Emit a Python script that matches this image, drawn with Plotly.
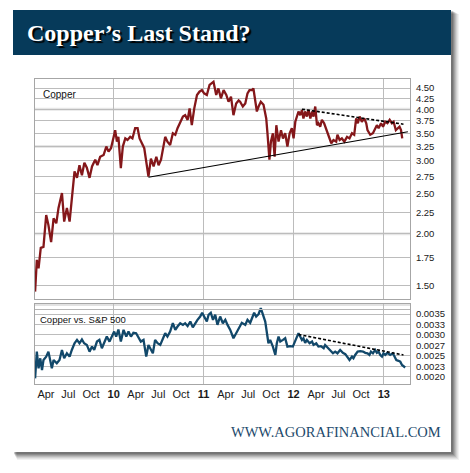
import plotly.graph_objects as go

# ---------------- data ----------------
copper_dates = [
    "2009-02-16","2009-02-23","2009-03-02","2009-03-11","2009-03-22","2009-04-02","2009-04-11","2009-04-22",
    "2009-05-02","2009-05-13","2009-05-22","2009-06-05","2009-06-14","2009-06-25","2009-07-06","2009-07-15",
    "2009-07-26","2009-08-05","2009-08-15","2009-08-25","2009-09-04","2009-09-14","2009-09-25","2009-10-05",
    "2009-10-18","2009-10-27","2009-11-07","2009-11-21","2009-12-02","2009-12-11","2009-12-21","2010-01-01",
    "2010-01-07","2010-01-14","2010-01-20","2010-01-30","2010-02-07","2010-02-17","2010-02-26","2010-03-09",
    "2010-03-18","2010-03-29","2010-04-08","2010-04-16","2010-04-25","2010-05-05","2010-05-13","2010-05-22",
    "2010-06-01","2010-06-12","2010-06-23","2010-07-02","2010-07-12","2010-07-20","2010-07-29","2010-08-07",
    "2010-08-18","2010-08-29","2010-09-08","2010-09-17","2010-09-28","2010-10-09","2010-10-18","2010-10-28",
    "2010-11-05","2010-11-14","2010-11-24","2010-12-05","2010-12-15","2010-12-25","2011-01-03","2011-01-14",
    "2011-01-25","2011-02-04","2011-02-10","2011-02-21","2011-03-02","2011-03-12","2011-03-23","2011-04-03",
    "2011-04-12","2011-04-22","2011-05-02","2011-05-13","2011-05-23","2011-05-29","2011-06-09","2011-06-19",
    "2011-06-28","2011-07-06","2011-07-16","2011-07-22","2011-07-29","2011-08-05","2011-08-12","2011-08-21",
    "2011-09-01","2011-09-12","2011-09-17","2011-09-25","2011-10-01","2011-10-09","2011-10-16","2011-10-23",
    "2011-11-01","2011-11-11","2011-11-19","2011-11-28","2011-12-07","2011-12-16","2011-12-25","2012-01-01",
    "2012-01-08","2012-01-15","2012-01-21","2012-01-28","2012-02-04","2012-02-10","2012-02-17","2012-02-24",
    "2012-03-02","2012-03-09","2012-03-16","2012-03-22","2012-03-29","2012-04-05","2012-04-11","2012-04-18",
    "2012-04-25","2012-05-04","2012-05-15","2012-05-25","2012-06-02","2012-06-11","2012-06-22","2012-06-27",
    "2012-07-06","2012-07-15","2012-07-25","2012-08-05","2012-08-15","2012-08-25","2012-09-03","2012-09-11",
    "2012-09-18","2012-09-25","2012-10-04","2012-10-14","2012-10-22","2012-10-27","2012-11-07","2012-11-18",
    "2012-11-27","2012-12-04","2012-12-11","2012-12-21","2012-12-29","2013-01-07","2013-01-16","2013-01-25",
    "2013-02-03","2013-02-10","2013-02-19","2013-02-26","2013-03-06","2013-03-12","2013-03-17",
]
copper_values = [
    1.45, 1.73, 1.65, 1.85, 1.86, 2.22, 2.10, 1.91,
    2.18, 2.12, 2.31, 2.51, 2.14, 2.31, 2.14, 2.48,
    2.83, 2.73, 2.93, 2.77, 2.97, 2.89, 2.73, 2.91,
    3.02, 2.93, 3.07, 3.10, 3.25, 3.16, 3.22, 3.43,
    3.56, 3.34, 3.43, 2.88, 3.25, 3.40, 3.37, 3.43,
    3.40, 3.60, 3.60, 3.40, 3.31, 3.22, 2.99, 2.75,
    3.04, 2.91, 3.07, 2.93, 3.02, 3.19, 3.43, 3.34,
    3.28, 3.50, 3.47, 3.60, 3.73, 3.84, 3.87, 3.77,
    4.02, 3.66, 4.02, 4.33, 4.41, 4.45, 4.37, 4.33,
    4.58, 4.62, 4.66, 4.33, 4.49, 4.25, 4.45, 4.33,
    4.17, 4.29, 3.87, 4.13, 4.20, 4.17, 4.06, 4.13,
    4.37, 4.45, 4.45, 4.49, 4.25, 3.95, 4.06, 4.17,
    4.10, 3.80, 3.50, 3.02, 3.34, 3.50, 3.07, 3.66,
    3.34, 3.56, 3.40, 3.50, 3.25, 3.50, 3.60, 3.40,
    3.73, 3.84, 3.95, 3.87, 3.98, 3.80, 3.95, 3.84,
    3.98, 3.80, 3.95, 3.84, 4.06, 3.66, 3.70, 3.63,
    3.77, 3.70, 3.53, 3.40, 3.31, 3.37, 3.34, 3.47,
    3.37, 3.40, 3.34, 3.43, 3.40, 3.50, 3.47, 3.80,
    3.70, 3.84, 3.73, 3.80, 3.70, 3.56, 3.47, 3.50,
    3.60, 3.66, 3.60, 3.70, 3.63, 3.73, 3.70, 3.77,
    3.70, 3.73, 3.56, 3.60, 3.63, 3.56, 3.40,
]

ratio_dates = [
    "2009-02-16","2009-02-23","2009-03-02","2009-03-09","2009-03-16","2009-03-22","2009-04-02","2009-04-11",
    "2009-04-25","2009-05-02","2009-05-15","2009-05-26","2009-06-05","2009-06-14","2009-06-25","2009-07-06",
    "2009-07-15","2009-07-26","2009-08-05","2009-08-15","2009-08-25","2009-09-03","2009-09-14","2009-09-25",
    "2009-10-05","2009-10-14","2009-10-25","2009-11-04","2009-11-14","2009-11-23","2009-12-04","2009-12-15",
    "2009-12-25","2010-01-03","2010-01-11","2010-01-20","2010-01-30","2010-02-10","2010-02-21","2010-03-02",
    "2010-03-12","2010-03-22","2010-04-02","2010-04-12","2010-04-21","2010-05-02","2010-05-13","2010-05-22",
    "2010-06-01","2010-06-09","2010-06-18","2010-06-28","2010-07-09","2010-07-20","2010-07-29","2010-08-07",
    "2010-08-18","2010-08-29","2010-09-08","2010-09-17","2010-09-28","2010-10-09","2010-10-18","2010-10-28",
    "2010-11-08","2010-11-18","2010-11-28","2010-12-07","2010-12-18","2010-12-26","2011-01-03","2011-01-14",
    "2011-01-21","2011-01-30","2011-02-08","2011-02-17","2011-02-26","2011-03-09","2011-03-20","2011-03-30",
    "2011-04-08","2011-04-19","2011-05-02","2011-05-16","2011-05-27","2011-06-05","2011-06-19","2011-06-28",
    "2011-07-09","2011-07-16","2011-07-25","2011-08-02","2011-08-12","2011-08-21","2011-08-30","2011-09-08",
    "2011-09-15","2011-09-21","2011-09-28","2011-10-09","2011-10-19","2011-10-25","2011-11-01","2011-11-08",
    "2011-11-19","2011-11-28","2011-12-07","2011-12-18","2011-12-29","2012-01-08","2012-01-15","2012-01-21",
    "2012-01-28","2012-02-04","2012-02-10","2012-02-17","2012-02-24","2012-03-06","2012-03-16","2012-03-22",
    "2012-04-02","2012-04-11","2012-04-21","2012-05-02","2012-05-08","2012-05-18","2012-05-29","2012-06-09",
    "2012-06-18","2012-06-27","2012-07-08","2012-07-19","2012-07-29","2012-08-07","2012-08-15","2012-08-25",
    "2012-08-31","2012-09-07","2012-09-17","2012-09-28","2012-10-09","2012-10-18","2012-10-27","2012-11-04",
    "2012-11-10","2012-11-18","2012-11-27","2012-12-04","2012-12-11","2012-12-18","2012-12-25","2012-12-31",
    "2013-01-07","2013-01-16","2013-01-27","2013-02-07","2013-02-13","2013-02-21","2013-03-02","2013-03-09",
    "2013-03-16","2013-03-22","2013-03-29",
]
ratio_values = [
    0.00196, 0.00260, 0.00220, 0.00244, 0.00216, 0.00240, 0.00248, 0.00260,
    0.00220, 0.00240, 0.00232, 0.00240, 0.00264, 0.00244, 0.00256, 0.00248,
    0.00264, 0.00280, 0.00288, 0.00280, 0.00289, 0.00280, 0.00276, 0.00260,
    0.00272, 0.00264, 0.00284, 0.00288, 0.00268, 0.00280, 0.00296, 0.00284,
    0.00296, 0.00308, 0.00296, 0.00313, 0.00284, 0.00312, 0.00296, 0.00308,
    0.00296, 0.00305, 0.00304, 0.00292, 0.00284, 0.00288, 0.00248, 0.00276,
    0.00264, 0.00256, 0.00288, 0.00280, 0.00276, 0.00292, 0.00304, 0.00296,
    0.00308, 0.00328, 0.00312, 0.00320, 0.00328, 0.00324, 0.00328, 0.00321,
    0.00332, 0.00318, 0.00328, 0.00336, 0.00344, 0.00353, 0.00344, 0.00332,
    0.00348, 0.00353, 0.00336, 0.00348, 0.00324, 0.00344, 0.00328, 0.00336,
    0.00324, 0.00312, 0.00292, 0.00308, 0.00320, 0.00329, 0.00324, 0.00336,
    0.00329, 0.00340, 0.00353, 0.00344, 0.00350, 0.00364, 0.00348, 0.00332,
    0.00304, 0.00280, 0.00288, 0.00272, 0.00252, 0.00280, 0.00296, 0.00284,
    0.00288, 0.00292, 0.00272, 0.00273, 0.00272, 0.00284, 0.00296, 0.00304,
    0.00296, 0.00288, 0.00292, 0.00281, 0.00288, 0.00280, 0.00284, 0.00276,
    0.00280, 0.00272, 0.00273, 0.00268, 0.00276, 0.00270, 0.00264, 0.00256,
    0.00260, 0.00256, 0.00264, 0.00257, 0.00254, 0.00248, 0.00240, 0.00248,
    0.00244, 0.00252, 0.00260, 0.00261, 0.00260, 0.00257, 0.00256, 0.00252,
    0.00260, 0.00256, 0.00264, 0.00257, 0.00260, 0.00252, 0.00248, 0.00256,
    0.00252, 0.00257, 0.00252, 0.00256, 0.00248, 0.00240, 0.00238, 0.00236,
    0.00228, 0.00224, 0.00222,
]

support_dates = ["2010-05-22", "2013-04-09"]
support_values = [2.74, 3.53]
resist_dates = ["2012-02-04", "2013-03-22"]
resist_values = [4.00, 3.68]
ratio_trend_dates = ["2012-01-21", "2013-03-22"]
ratio_trend_values = [0.00301, 0.00252]

x_tick_dates = ["2009-04-01","2009-07-01","2009-10-01","2010-01-01","2010-04-01","2010-07-01","2010-10-01",
                "2011-01-01","2011-04-01","2011-07-01","2011-10-01","2012-01-01","2012-04-01","2012-07-01",
                "2012-10-01","2013-01-01"]
x_tick_labels = ["Apr","Jul","Oct","<b>10</b>","Apr","Jul","Oct","<b>11</b>","Apr","Jul","Oct","<b>12</b>",
                 "Apr","Jul","Oct","<b>13</b>"]
copper_ticks = [1.50, 1.75, 2.00, 2.25, 2.50, 2.75, 3.00, 3.25, 3.50, 3.75, 4.00, 4.25, 4.50]
copper_tick_labels = ["1.50","1.75","2.00","2.25","2.50","2.75","3.00","3.25","3.50","3.75","4.00","4.25","4.50"]
copper_band_levels = [2.00, 3.25, 4.00]
ratio_ticks = [0.0020, 0.00225, 0.0025, 0.00275, 0.0030, 0.00325, 0.0035]
ratio_tick_labels = ["0.0020","0.0023","0.0025","0.0027","0.0030","0.0033","0.0035"]

title_text = "Copper’s Last Stand?"
footer_text = "WWW.AGORAFINANCIAL.COM"

# ---------------- layout geometry (pixels of the 470x473 view) ----------------
OFF = 8                      # page body margin added by the browser
W, H = 470 - OFF, 473 - OFF  # figure size so that the page stays 470x473
L, R, T, B = 35, 410, 79, 384  # plot area in view pixels


def px(x):
    return (x - L) / (R - L)


def py(y):
    return (B - y) / (B - T)


fig = go.Figure()

fig.add_trace(go.Scatter(x=copper_dates, y=copper_values, mode="lines",
                         line=dict(color="#84171a", width=2.3), xaxis="x", yaxis="y",
                         hoverinfo="skip", showlegend=False))
fig.add_trace(go.Scatter(x=support_dates, y=support_values, mode="lines",
                         line=dict(color="#000000", width=1.1), xaxis="x", yaxis="y",
                         hoverinfo="skip", showlegend=False))
fig.add_trace(go.Scatter(x=resist_dates, y=resist_values, mode="lines",
                         line=dict(color="#000000", width=1.6, dash="3px,2px"), xaxis="x", yaxis="y",
                         hoverinfo="skip", showlegend=False))
fig.add_trace(go.Scatter(x=ratio_dates, y=ratio_values, mode="lines",
                         line=dict(color="#12486a", width=2.3), xaxis="x2", yaxis="y2",
                         hoverinfo="skip", showlegend=False))
fig.add_trace(go.Scatter(x=ratio_trend_dates, y=ratio_trend_values, mode="lines",
                         line=dict(color="#000000", width=1.6, dash="3px,2px"), xaxis="x2", yaxis="y2",
                         hoverinfo="skip", showlegend=False))

shapes = []
# card shadow
for off, op in [(8, 0.05), (7, 0.06), (6, 0.08), (5, 0.10), (4, 0.12), (3, 0.14), (2, 0.16)]:
    shapes.append(dict(type="rect", xref="paper", yref="paper", layer="below",
                       x0=px(13 + off * 0.5), x1=px(451 + off), y0=py(452 + off), y1=py(10 + off * 0.5),
                       fillcolor=f"rgba(0,0,0,{op})", line=dict(width=0)))
# card
shapes.append(dict(type="rect", xref="paper", yref="paper", layer="below",
                   x0=px(13), x1=px(451), y0=py(452), y1=py(10),
                   fillcolor="#ffffff", line=dict(width=0)))
# banner
shapes.append(dict(type="rect", xref="paper", yref="paper", layer="below",
                   x0=px(13), x1=px(451), y0=py(55), y1=py(10),
                   fillcolor="#063a5a", line=dict(width=0)))
# light bands in copper panel
for lv in copper_band_levels:
    shapes.append(dict(type="line", xref="x domain", yref="y", layer="below",
                       x0=0, x1=1, y0=lv, y1=lv, line=dict(color="#e6e6e6", width=3)))
# light band at top of lower panel
shapes.append(dict(type="line", xref="paper", yref="paper", layer="below",
                   x0=0, x1=1, y0=py(304.5), y1=py(304.5), line=dict(color="#e2e2e2", width=3)))
shapes.append(dict(type="line", xref="paper", yref="paper", layer="above",
                   x0=0, x1=1, y0=py(309.5), y1=py(309.5), line=dict(color="#b5b5b5", width=1)))

annotations = [
    dict(text=title_text, xref="paper", yref="paper", x=px(25), y=py(33), xanchor="left", yanchor="middle",
         showarrow=False,
         font=dict(family="Liberation Serif", size=24, color="#ffffff", weight="bold",
                   shadow="2px 2px 1px #000000")),
    dict(text=footer_text, xref="paper", yref="paper", x=px(443), y=py(432), xanchor="right", yanchor="middle",
         showarrow=False, font=dict(family="Liberation Serif", size=14.5, color="#1d4a6c")),
    dict(text="Copper", xref="paper", yref="paper", x=px(41), y=py(94), xanchor="left", yanchor="middle",
         showarrow=False, font=dict(family="Liberation Sans", size=10, color="#111111")),
    dict(text="Copper vs. S&amp;P 500", xref="paper", yref="paper", x=px(38), y=py(319.5), xanchor="left",
         yanchor="middle", showarrow=False, font=dict(family="Liberation Sans", size=9.5, color="#111111")),
]

x_range = ["2009-02-15 14:00", "2013-04-17 12:00"]
grid_c = "#bcbcbc"
frame_c = "#a6a6a6"

common_x = dict(type="date", range=x_range, tickvals=x_tick_dates, ticktext=x_tick_labels,
                showgrid=False, showline=True, mirror=True, linecolor=frame_c, linewidth=1,
                ticks="", zeroline=False,
                minor=dict(dtick="M12", tick0="2009-01-01", showgrid=True, gridcolor=grid_c, gridwidth=1, ticks=""))

fig.update_layout(
    width=W, height=H,
    margin=dict(l=L - OFF, r=W - (R - OFF), t=T - OFF, b=H - (B - OFF), pad=0),
    paper_bgcolor="#ffffff", plot_bgcolor="rgba(0,0,0,0)",
    font=dict(family="Liberation Sans", color="#1a1a1a"),
    xaxis=dict(common_x, domain=[0, 1], anchor="y", showticklabels=False, matches="x2"),
    xaxis2=dict(common_x, domain=[0, 1], anchor="y2", showticklabels=True,
                tickfont=dict(size=11, color="#1a1a1a")),
    yaxis=dict(type="log", domain=[py(299), 1], anchor="x", side="right",
               range=[0.14346, 0.6751], tickvals=copper_ticks, ticktext=copper_tick_labels,
               showgrid=True, gridcolor=grid_c, gridwidth=1, showline=True, mirror=True,
               linecolor=frame_c, ticks="", tickfont=dict(size=9.5, color="#1a1a1a"),
               ticklabelstandoff=3, zeroline=False),
    yaxis2=dict(domain=[0, py(304)], anchor="x2", side="right",
                range=[0.0018254, 0.0037392], tickvals=ratio_ticks, ticktext=ratio_tick_labels,
                showgrid=True, gridcolor=grid_c, gridwidth=1, showline=True, mirror=True,
                linecolor=frame_c, ticks="", tickfont=dict(size=9.5, color="#1a1a1a"),
                ticklabelstandoff=3, zeroline=False),
    shapes=shapes,
    annotations=annotations,
)

fig.write_html("out.html")
